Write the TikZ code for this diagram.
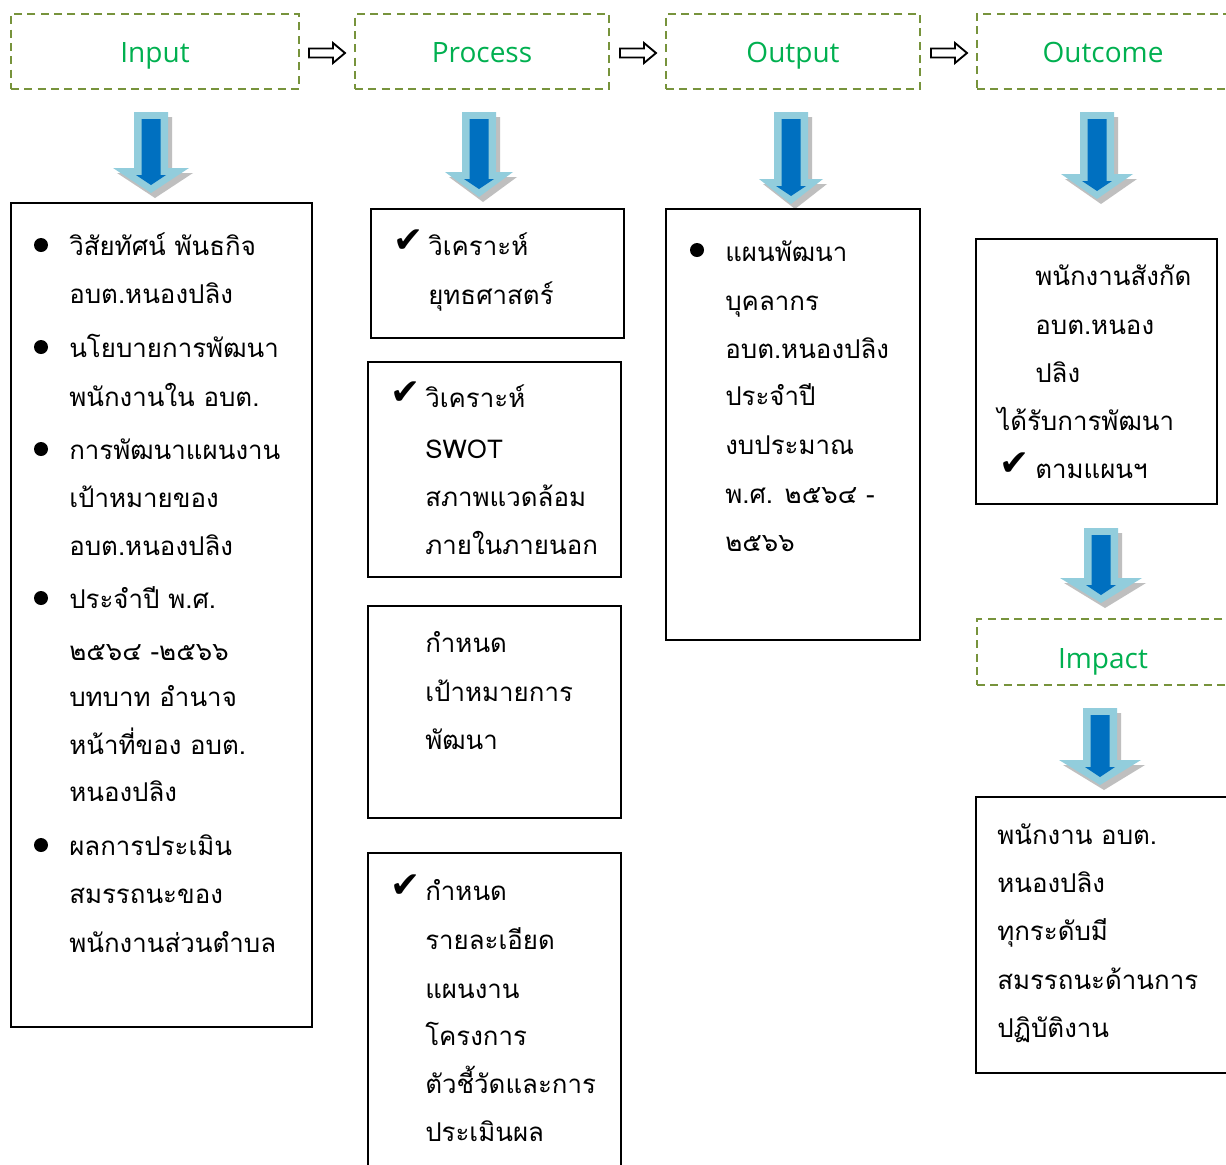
\documentclass[tikz,border=0pt]{standalone}
\usepackage{fontspec}
\setmainfont{Open Sans}
\newfontfamily\thaifont[Script=Thai]{Loma}
\newfontfamily\symfont{DejaVu Sans}
\usetikzlibrary{fit}
\definecolor{hdrgreen}{HTML}{00B050}
\definecolor{hdrline}{HTML}{77933C}
\definecolor{arrowblue}{HTML}{0070C0}
\definecolor{arrowlight}{HTML}{92CDDC}
\definecolor{arrowshadow}{HTML}{BFBFBF}
\newcommand{\bluearrow}[4]{% cx, top, tip, head half width
  \fill[arrowshadow] (#1-17+4,#2+5) -- (#1+17+4,#2+5) -- (#1+17+4,#3-25+5) -- (#1+#4+4,#3-25+5) -- (#1+4,#3+5) -- (#1-#4+4,#3-25+5) -- (#1-17+4,#3-25+5) -- cycle;
  \fill[arrowlight] (#1-17,#2) -- (#1+17,#2) -- (#1+17,#3-25) -- (#1+#4,#3-25) -- (#1,#3) -- (#1-#4,#3-25) -- (#1-17,#3-25) -- cycle;
  \fill[arrowblue] (#1-9.5,#2+7) -- (#1+9.5,#2+7) -- (#1+9.5,#3-18) -- (#1+15,#3-18) -- (#1,#3-8) -- (#1-15,#3-18) -- (#1-9.5,#3-18) -- cycle;
}
\newcommand{\hollowarrow}[2]{% left x, center y
  \draw[line width=1.4pt, fill=white, line join=miter] (#1,#2-4.5) -- (#1+24,#2-4.5) -- (#1+24,#2-10) -- (#1+36,#2) -- (#1+24,#2+10) -- (#1+24,#2+4.5) -- (#1,#2+4.5) -- cycle;
}
\begin{document}
\begin{tikzpicture}[x=0.75pt,y=-0.75pt,
  hdr/.style={draw=hdrline, line width=1.3pt, dash pattern=on 6pt off 4pt, inner sep=0pt},
  box/.style={draw=black, line width=1.4pt, inner sep=0pt},
  lbl/.style={text=hdrgreen, font=\fontsize{21}{24}\selectfont, inner sep=0pt, anchor=base},
  tx/.style={anchor=base west, inner sep=0pt, font=\thaifont\fontsize{19.4}{24}\selectfont},
  chk/.style={anchor=base west, inner sep=0pt, font=\symfont\fontsize{27}{30}\selectfont},
  bul/.style={fill=black, circle, inner sep=0pt, minimum size=10.5pt}]
\useasboundingbox (0,0) rectangle (1226,1164);
\clip (0,0) rectangle (1226,1164);
\fill[white] (0,0) rectangle (1226,1164);

% header boxes
\node[hdr, fit={(11,14) (299,89)}] (hin) {};
\node[hdr, fit={(355,14) (609,89)}] (hpr) {};
\node[hdr, fit={(666,14) (920,89)}] (hout) {};
\node[hdr, fit={(977,14) (1240,89)}] (hoc) {};
\node[hdr, fit={(977,619) (1240,685)}] (him) {};
\node[lbl] (lin) at (155,62) {Input};
\node[lbl] (lpr) at (482,62) {Process};
\node[lbl] (lout) at (793,62) {Output};
\node[lbl] (loc) at (1103,62) {Outcome};
\node[lbl] (lim) at (1103,668) {Impact};

\hollowarrow{309}{53}
\hollowarrow{620}{53}
\hollowarrow{931}{53}

\bluearrow{151}{112}{193}{38}
\bluearrow{479}{112}{197}{34}
\bluearrow{791}{112}{204}{32}
\bluearrow{1097}{112}{199}{36}
\bluearrow{1101}{528}{603}{41}
\bluearrow{1100}{708}{785}{41}

% content boxes
\node[box, fit={(11,203) (312,1027)}] (bin) {};
\node[box, fit={(371,209) (624,338)}] (bp1) {};
\node[box, fit={(368,362) (621,577)}] (bp2) {};
\node[box, fit={(368,606) (621,818)}] (bp3) {};
\node[box, fit={(368,853) (621,1180)}] (bp4) {};
\node[box, fit={(666,209) (920,640)}] (bout) {};
\node[box, fit={(976,239) (1217,504)}] (boc) {};
\node[box, fit={(976,797) (1240,1073)}] (bim) {};

% Input text
\node[bul] (ib1) at (41,245) {};
\node[bul] (ib2) at (41,347) {};
\node[bul] (ib3) at (41,449) {};
\node[bul] (ib4) at (41,598) {};
\node[bul] (ib5) at (41,845) {};
\node[tx] (i1) at (69,255) {วิสัยทัศน์ พันธกิจ};
\node[tx] (i2) at (69,303) {อบต.หนองปลิง};
\node[tx] (i3) at (69,357) {นโยบายการพัฒนา};
\node[tx] (i4) at (69,406) {พนักงานใน อบต.};
\node[tx] (i5) at (69,459) {การพัฒนาแผนงาน};
\node[tx] (i6) at (69,507) {เป้าหมายของ};
\node[tx] (i7) at (69,555) {อบต.หนองปลิง};
\node[tx] (i8) at (69,608) {ประจำปี พ.ศ.};
\node[tx] (i9) at (69,660) {๒๕๖๔ -๒๕๖๖};
\node[tx] (i10) at (69,706) {บทบาท อำนาจ};
\node[tx] (i11) at (69,754) {หน้าที่ของ อบต.};
\node[tx] (i12) at (69,801) {หนองปลิง};
\node[tx] (i13) at (69,855) {ผลการประเมิน};
\node[tx] (i14) at (69,903) {สมรรถนะของ};
\node[tx] (i15) at (69,952) {พนักงานส่วนตำบล};

% Process texts
\node[chk] (pc1) at (393,252) {✔};
\node[tx] (p11) at (428,255) {วิเคราะห์};
\node[tx] (p12) at (428,304) {ยุทธศาสตร์};
\node[chk] (pc2) at (390,404) {✔};
\node[tx] (p21) at (425,407) {วิเคราะห์};
\node[tx] (p22) at (425,458) {SWOT};
\node[tx] (p23) at (425,506) {สภาพแวดล้อม};
\node[tx] (p24) at (425,554) {ภายในภายนอก};
\node[tx] (p31) at (425,652) {กำหนด};
\node[tx] (p32) at (425,701) {เป้าหมายการ};
\node[tx] (p33) at (425,749) {พัฒนา};
\node[chk] (pc4) at (390,897) {✔};
\node[tx] (p41) at (425,900) {กำหนด};
\node[tx] (p42) at (425,949) {รายละเอียด};
\node[tx] (p43) at (425,998) {แผนงาน};
\node[tx] (p44) at (425,1045) {โครงการ};
\node[tx] (p45) at (425,1093) {ตัวชี้วัดและการ};
\node[tx] (p46) at (425,1141) {ประเมินผล};

% Output text
\node[bul] (ob1) at (697,250) {};
\node[tx] (o1) at (725,261) {แผนพัฒนา};
\node[tx] (o2) at (725,310) {บุคลากร};
\node[tx] (o3) at (725,358) {อบต.หนองปลิง};
\node[tx] (o4) at (725,405) {ประจำปี};
\node[tx] (o5) at (725,454) {งบประมาณ};
\node[tx] (o6) at (725,503) {พ.ศ. ๒๕๖๔ -};
\node[tx] (o7) at (725,551) {๒๕๖๖};

% Outcome text
\node[tx] (c1) at (1035,285) {พนักงานสังกัด};
\node[tx] (c2) at (1035,334) {อบต.หนอง};
\node[tx] (c3) at (1035,382) {ปลิง};
\node[tx] (c4) at (997,430) {ได้รับการพัฒนา};
\node[chk] (cc5) at (999,475) {✔};
\node[tx] (c5) at (1035,478) {ตามแผนฯ};

% Impact text
\node[tx] (m1) at (997,844) {พนักงาน อบต.};
\node[tx] (m2) at (997,892) {หนองปลิง};
\node[tx] (m3) at (997,940) {ทุกระดับมี};
\node[tx] (m4) at (997,989) {สมรรถนะด้านการ};
\node[tx] (m5) at (997,1037) {ปฏิบัติงาน};
\end{tikzpicture}
\end{document}
